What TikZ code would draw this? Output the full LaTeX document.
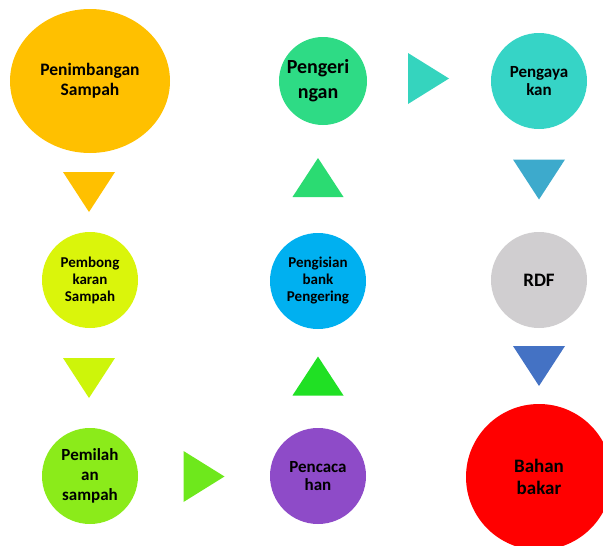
\documentclass[tikz,border=0pt]{standalone}
\usepackage{fontspec}
\setmainfont{Carlito}
\usetikzlibrary{shapes.geometric}
\definecolor{cPen}{HTML}{FFC000}
\definecolor{cBong}{HTML}{DAF50B}
\definecolor{cBongT}{HTML}{CDF50A}
\definecolor{cPil}{HTML}{8BEB1A}
\definecolor{cPilT}{HTML}{6EE81C}
\definecolor{cCac}{HTML}{8E4BC8}
\definecolor{cCacT}{HTML}{20E024}
\definecolor{cIsi}{HTML}{00B0F0}
\definecolor{cIsiT}{HTML}{2BDB72}
\definecolor{cKer}{HTML}{2EDB85}
\definecolor{cKerT}{HTML}{35D4BE}
\definecolor{cAya}{HTML}{36D4C6}
\definecolor{cAyaT}{HTML}{3DAACC}
\definecolor{cRDF}{HTML}{D0CED0}
\definecolor{cRDFT}{HTML}{4472C4}
\definecolor{cBak}{HTML}{FF0000}
\tikzset{
  stage/.style={circle, inner sep=0pt, minimum size=96pt, align=center, font=\bfseries, text=black},
  tridown/.pic={\fill[pic actions] (-26,-20) -- (26,-20) -- (0,20) -- cycle;},
  triup/.pic={\fill[pic actions] (-25.5,19.5) -- (25.5,19.5) -- (0,-19.5) -- cycle;},
  triright/.pic={\fill[pic actions] (-20.5,-25.5) -- (-20.5,25.5) -- (20.5,0) -- cycle;},
}
\begin{document}
\begin{tikzpicture}[x=1pt,y=-1pt]
\useasboundingbox (0,0) rectangle (603,546);
\begin{scope}
\clip (0,0) rectangle (603,546);
\node[ellipse, fill=cPen, minimum width=160pt, minimum height=144pt, inner sep=0pt, align=center, font=\fontsize{17.5}{20}\selectfont\bfseries] (pen) at (90,81) {Penimbangan\\Sampah};
\node[stage, fill=cBong, font=\fontsize{15}{17}\selectfont\bfseries] (bong) at (90,280) {Pembong\\karan\\Sampah};
\node[stage, fill=cPil, font=\fontsize{17}{20}\selectfont\bfseries] (pil) at (90,476) {Pemilah\\an\\sampah};
\node[stage, fill=cCac, font=\fontsize{17}{18}\selectfont\bfseries] (cac) at (318,476) {Pencaca\\han};
\node[stage, fill=cIsi, font=\fontsize{15}{17}\selectfont\bfseries] (isi) at (318,281) {Pengisian\\bank\\Pengering};
\node[stage, fill=cKer, minimum size=88pt, font=\fontsize{20}{25}\selectfont\bfseries] (ker) at (323,81) {Pengeri\hspace*{10pt}\\ngan\hspace*{10pt}};
\node[stage, fill=cAya, font=\fontsize{17}{18}\selectfont\bfseries] (aya) at (539,81) {Pengaya\\kan};
\node[stage, fill=cRDF, font=\fontsize{19}{22}\selectfont\bfseries] (rdf) at (539,280) {RDF};
\node[stage, fill=cBak, minimum size=146pt, font=\fontsize{19}{22}\selectfont\bfseries] (bak) at (539,477) {Bahan\\bakar};
\end{scope}
\pic[fill=cPen] at (89,192) {tridown};
\pic[fill=cBongT] at (89,378) {tridown};
\pic[fill=cPilT] at (204,476.5) {triright};
\pic[fill=cCacT] at (318,376) {triup};
\pic[fill=cIsiT] at (318,177.5) {triup};
\pic[fill=cKerT] at (428.5,78.5) {triright};
\pic[fill=cAyaT] at (539,179.5) {tridown};
\pic[fill=cRDFT] at (539,366) {tridown};
\end{tikzpicture}
\end{document}
